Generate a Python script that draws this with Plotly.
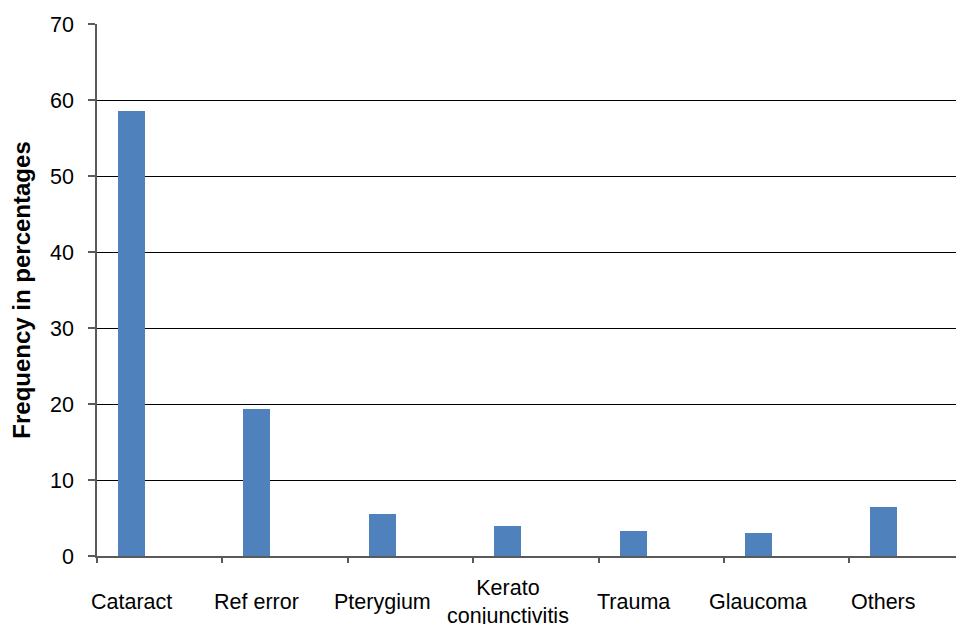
import plotly.graph_objects as go

categories = ["Cataract", "Ref error", "Pterygium", "Kerato<br>conjunctivitis", "Trauma", "Glaucoma", "Others"]
values = [58.5, 19.4, 5.5, 3.9, 3.25, 3.0, 6.4]
y_ticks = [0, 10, 20, 30, 40, 50, 60, 70]

FONT = "Liberation Sans, Arial, sans-serif"
AXIS_GRAY = "#5a5a5a"
TICK_SIZE = 21.5

n = len(categories)
xr = [-0.275, 6.639]
boundary_ticks = [i - 0.275 for i in range(n + 1)]

fig = go.Figure()
fig.add_trace(go.Bar(
    x=categories, y=values,
    marker=dict(color="#4F81BD", line=dict(width=0)),
    width=0.215,
    showlegend=False,
))
fig.add_trace(go.Scatter(
    x=boundary_ticks, y=[0] * len(boundary_ticks), xaxis="x2", yaxis="y",
    mode="markers", marker=dict(opacity=0), showlegend=False, hoverinfo="skip",
))

for c in categories:
    fig.add_annotation(
        x=c, y=0, xref="x", yref="y", text=c, showarrow=False,
        yanchor="middle", xanchor="center", yshift=-46,
        font=dict(family=FONT, size=TICK_SIZE, color="#000"),
    )

# page body has an 8px margin; compensate so plot sits where the reference has it
fig.update_layout(
    width=956, height=616,
    margin=dict(l=89, r=0, t=16, b=68),
    paper_bgcolor="white", plot_bgcolor="white",
    font=dict(family=FONT, size=TICK_SIZE, color="#000"),
    bargap=0,
    xaxis=dict(
        type="category", range=xr, showgrid=False, zeroline=False,
        showline=True, linecolor=AXIS_GRAY, linewidth=1.5,
        ticks="", showticklabels=False, fixedrange=True,
    ),
    xaxis2=dict(
        overlaying="x", anchor="y", side="bottom", range=xr,
        tickmode="array", tickvals=boundary_ticks, ticks="outside",
        ticklen=6, tickwidth=1.5, tickcolor=AXIS_GRAY,
        showticklabels=False, showgrid=False, zeroline=False, showline=False,
    ),
    yaxis=dict(
        range=[0, 70], tickmode="array", tickvals=y_ticks,
        showgrid=True, gridcolor="#000", gridwidth=1,
        zeroline=False, showline=True, linecolor=AXIS_GRAY, linewidth=1.5,
        ticks="outside", ticklen=7, tickwidth=1.5, tickcolor=AXIS_GRAY,
        ticklabelstandoff=10,
        tickfont=dict(family=FONT, size=TICK_SIZE, color="#000"),
        title=dict(text="<b>Frequency in percentages</b>",
                   font=dict(family=FONT, size=24, color="#000"), standoff=16),
    ),
)

fig.write_html("out.html")
